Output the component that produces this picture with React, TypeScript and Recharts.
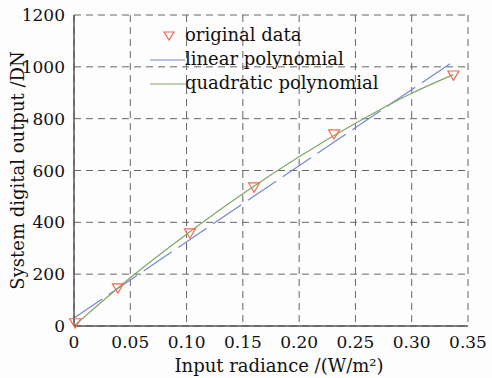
import {
  ComposedChart,
  Line,
  Scatter,
  XAxis,
  YAxis,
  CartesianGrid,
} from "recharts";

// measured points (triangles)
const radiance = [0.001, 0.039, 0.103, 0.16, 0.231, 0.337];
const digitalOut = [12, 147, 359, 536, 741, 968];

// linear fit, read at its two ends
const linearX = [0, 0.336];
const linearY = [31, 1018];

// quadratic fit
const quadX = [0, 0.05, 0.1, 0.15, 0.2, 0.25, 0.3, 0.337];
const quadY = [0, 186, 354, 510, 653, 782, 898, 970];

const xTicks = [0, 0.05, 0.1, 0.15, 0.2, 0.25, 0.3, 0.35];
const yTicks = [0, 200, 400, 600, 800, 1000, 1200];

const legendItems = ["original data", "linear polynomial", "quadratic polynomial"];

const FONT = "'DejaVu Serif', 'Liberation Serif', serif";
const ORANGE = "#f06a4e";
const BLUE = "#7588d6";
const GREEN = "#7fa764";

const points = radiance.map((x, i) => ({ x, y: digitalOut[i] }));
const linear = linearX.map((x, i) => ({ x, y: linearY[i] }));
const quad = quadX.map((x, i) => ({ x, y: quadY[i] }));

const Triangle = (props: any) => {
  const { cx, cy } = props;
  if (cx == null || cy == null) return null;
  const s = 5.5;
  return (
    <path
      d={`M${cx - s},${cy - s * 0.75} L${cx + s},${cy - s * 0.75} L${cx},${cy + s * 0.95} Z`}
      fill="none"
      stroke={ORANGE}
      strokeWidth={1.2}
    />
  );
};

const LegendBox = () => (
  <div
    style={{
      position: "absolute",
      left: 150,
      top: 23,
      fontFamily: FONT,
      fontSize: 18,
      color: "#111",
      lineHeight: "24px",
      pointerEvents: "none",
    }}
  >
    {legendItems.map((name, i) => (
      <div key={name} style={{ display: "flex", alignItems: "center", height: 24 }}>
        <svg width={35} height={24}>
          {i === 0 && (
            <path d="M14,9 L24,9 L19,17 Z" fill="none" stroke={ORANGE} strokeWidth={1.2} />
          )}
          {i === 1 && <line x1={0} y1={13} x2={35} y2={13} stroke={BLUE} strokeWidth={1.2} />}
          {i === 2 && <line x1={0} y1={13} x2={35} y2={13} stroke={GREEN} strokeWidth={1.2} />}
        </svg>
        <span>{name}</span>
      </div>
    ))}
  </div>
);

export default function App() {
  const tick = { fontFamily: FONT, fontSize: 17, fill: "#111" };
  return (
    <div style={{ position: "absolute", left: 0, top: 0, width: 492, height: 378, background: "#fdfdfd" }}>
      <ComposedChart width={492} height={378} margin={{ top: 15, right: 24, left: 0, bottom: 0 }}>
        <CartesianGrid xAxisId="b" yAxisId="l" stroke="#666" strokeDasharray="7 5" strokeWidth={1} />
        <XAxis
          xAxisId="b"
          type="number"
          dataKey="x"
          domain={[0, 0.35]}
          ticks={xTicks}
          tickFormatter={(v: number) => (v === 0 ? "0" : v.toFixed(2))}
          tick={tick}
          tickLine={false}
          axisLine={{ stroke: "#555", strokeWidth: 1.5 }}
          height={52}
          tickMargin={4}
          label={{
            value: "Input radiance /(W/m²)",
            position: "insideBottom",
            offset: 6,
            dx: 8,
            style: { fontFamily: FONT, fontSize: 18, fill: "#111" },
          }}
        />
        <XAxis
          xAxisId="t"
          orientation="top"
          type="number"
          domain={[0, 0.35]}
          ticks={xTicks}
          tick={false}
          tickLine={false}
          axisLine={{ stroke: "#555", strokeWidth: 1.5 }}
          height={0}
        />
        <YAxis
          yAxisId="l"
          type="number"
          dataKey="y"
          domain={[0, 1200]}
          ticks={yTicks}
          tick={tick}
          tickLine={false}
          axisLine={{ stroke: "#555", strokeWidth: 1.5 }}
          width={74}
          tickMargin={3}
          label={{
            value: "System digital output /DN",
            angle: -90,
            position: "insideLeft",
            offset: 18,
            style: { fontFamily: FONT, fontSize: 18, fill: "#111", textAnchor: "middle" },
          }}
        />
        <YAxis
          yAxisId="r"
          orientation="right"
          type="number"
          domain={[0, 1200]}
          ticks={yTicks}
          tick={false}
          tickLine={false}
          axisLine={{ stroke: "#555", strokeWidth: 1.5 }}
          width={0}
        />
        <Line
          xAxisId="b"
          yAxisId="l"
          data={linear}
          dataKey="y"
          type="linear"
          stroke={BLUE}
          strokeWidth={1.2}
          strokeDasharray="34 8"
          dot={false}
          isAnimationActive={false}
        />
        <Line
          xAxisId="b"
          yAxisId="l"
          data={quad}
          dataKey="y"
          type="monotone"
          stroke={GREEN}
          strokeWidth={1.2}
          dot={false}
          isAnimationActive={false}
        />
        <Scatter
          xAxisId="b"
          yAxisId="l"
          data={points}
          dataKey="y"
          shape={<Triangle />}
          isAnimationActive={false}
        />
      </ComposedChart>
      <LegendBox />
    </div>
  );
}
